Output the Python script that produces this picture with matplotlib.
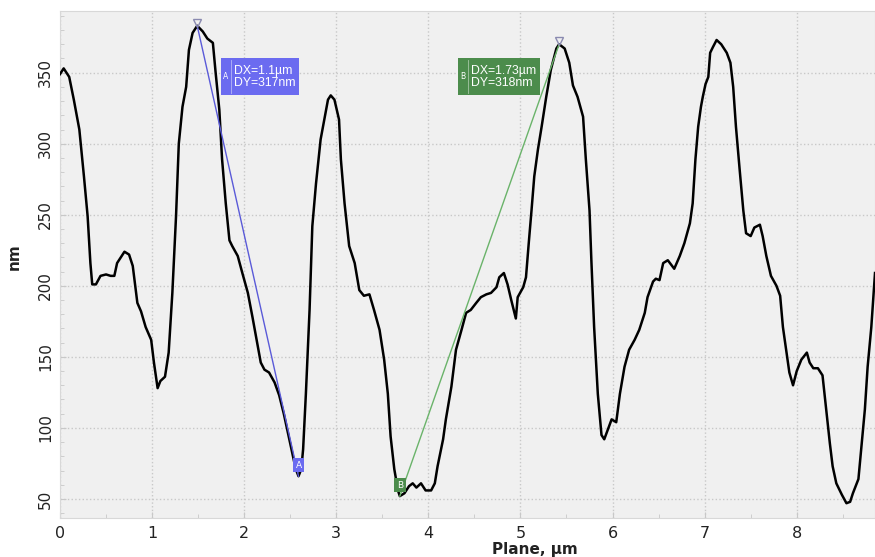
import matplotlib
matplotlib.use('Agg')
import matplotlib.pyplot as plt
from matplotlib.ticker import MultipleLocator

# Perfil medido (posição em µm, altura em nm)
pos_um = [0.00, 0.04, 0.10, 0.15, 0.21, 0.26, 0.30, 0.33, 0.35, 0.39,
          0.44, 0.50, 0.55, 0.59, 0.62, 0.70, 0.75, 0.79, 0.84, 0.88,
          0.93, 0.99, 1.02, 1.06, 1.09, 1.14, 1.18, 1.22, 1.26, 1.29,
          1.33, 1.37, 1.40, 1.44, 1.49, 1.55, 1.60, 1.66, 1.69, 1.73,
          1.76, 1.80, 1.84, 1.87, 1.93, 1.98, 2.04, 2.09, 2.14, 2.18,
          2.22, 2.27, 2.33, 2.38, 2.43, 2.49, 2.53, 2.56, 2.59, 2.62,
          2.64, 2.67, 2.71, 2.74, 2.78, 2.83, 2.87, 2.91, 2.94, 2.98,
          3.03, 3.05, 3.09, 3.14, 3.20, 3.25, 3.30, 3.36, 3.41, 3.47,
          3.52, 3.56, 3.59, 3.63, 3.67, 3.69, 3.74, 3.79, 3.83, 3.87,
          3.92, 3.97, 4.03, 4.07, 4.10, 4.16, 4.19, 4.25, 4.30, 4.36,
          4.41, 4.46, 4.52, 4.57, 4.63, 4.68, 4.74, 4.77, 4.82, 4.86,
          4.90, 4.95, 4.97, 5.03, 5.06, 5.09, 5.12, 5.15, 5.19, 5.23,
          5.28, 5.33, 5.39, 5.42, 5.48, 5.53, 5.57, 5.62, 5.68, 5.71,
          5.75, 5.77, 5.80, 5.84, 5.88, 5.91, 5.95, 5.99, 6.04, 6.08,
          6.13, 6.18, 6.24, 6.29, 6.35, 6.38, 6.44, 6.47, 6.51, 6.55,
          6.60, 6.67, 6.73, 6.78, 6.84, 6.87, 6.90, 6.93, 6.96, 6.98,
          7.01, 7.04, 7.06, 7.09, 7.13, 7.18, 7.24, 7.28, 7.31, 7.34,
          7.38, 7.42, 7.45, 7.50, 7.54, 7.60, 7.63, 7.67, 7.72, 7.78,
          7.82, 7.85, 7.89, 7.92, 7.96, 8.00, 8.05, 8.11, 8.14, 8.18,
          8.23, 8.28, 8.32, 8.36, 8.39, 8.43, 8.49, 8.54, 8.58, 8.61,
          8.67, 8.70, 8.74, 8.77, 8.81, 8.85]
altura_nm = [349, 353, 347, 331, 310, 277, 249, 216, 201, 201,
             207, 208, 207, 207, 216, 224, 222, 214, 188, 182,
             171, 162, 146, 128, 133, 136, 153, 195, 249, 300,
             326, 340, 366, 378, 383, 379, 374, 371, 350, 324,
             289, 258, 232, 228, 221, 209, 195, 178, 160, 146,
             141, 139, 132, 123, 110, 92, 80, 71, 66, 71,
             85, 124, 183, 242, 272, 303, 317, 331, 334, 331,
             317, 289, 258, 228, 216, 197, 193, 194, 183, 169,
             148, 124, 94, 71, 56, 52, 54, 59, 61, 58,
             61, 56, 56, 61, 73, 92, 106, 129, 155, 169,
             181, 183, 188, 192, 194, 195, 199, 206, 209, 201,
             190, 177, 192, 199, 206, 230, 253, 277, 296, 312,
             333, 352, 367, 370, 367, 357, 341, 333, 319, 289,
             253, 218, 171, 124, 95, 92, 99, 106, 104, 124,
             143, 155, 162, 169, 181, 192, 203, 205, 204, 216,
             218, 212, 221, 230, 244, 258, 289, 312, 326, 333,
             342, 347, 364, 368, 373, 370, 364, 357, 340, 312,
             282, 253, 237, 235, 241, 243, 235, 221, 207, 200,
             193, 171, 153, 139, 130, 140, 148, 153, 146, 142,
             142, 137, 113, 89, 73, 61, 53, 47, 48, 54,
             64, 85, 113, 143, 171, 209]

# Medições (cursores A e B): ponto inicial e final
medida_letra = ['A', 'B']
medida_x1 = [1.49, 3.69]
medida_y1 = [383, 52]
medida_x2 = [2.59, 5.42]
medida_y2 = [66, 370]
medida_cor = ['#6b6bf0', '#4c8c4c']
medida_linha = ['#5a5ad8', '#6ab36a']

fig = plt.figure(figsize=(8.75, 5.57), dpi=100, facecolor='white')
ax = fig.add_axes([60 / 875, 1 - 518 / 557, 815 / 875, 507 / 557])
ax.set_facecolor('#f0f0f0')

ax.plot(pos_um, altura_nm, color='black', lw=1.8, zorder=3)

for i, letra in enumerate(medida_letra):
    ax.plot([medida_x1[i], medida_x2[i]], [medida_y1[i], medida_y2[i]],
            color=medida_linha[i], lw=1.0, zorder=4)
    # ponto alto: triângulo aberto; ponto baixo: quadrado com a letra
    if medida_y1[i] > medida_y2[i]:
        topo = (medida_x1[i], medida_y1[i])
        vale = (medida_x2[i], medida_y2[i])
    else:
        topo = (medida_x2[i], medida_y2[i])
        vale = (medida_x1[i], medida_y1[i])
    ax.plot(topo[0], topo[1] + 2, marker='v', ms=6, mfc='none',
            mec='#8a8ab0', mew=1.0, zorder=5)
    ax.annotate(letra, xy=vale, xytext=(0, 8), textcoords='offset points',
                ha='center', va='center', fontsize=6.5, color='white',
                bbox=dict(boxstyle='square,pad=0.3', fc=medida_cor[i], ec='none'),
                zorder=6)

# Caixas de texto DX / DY
caixas = [(1.75, 0.85, 'A', 'DX=1.1µm\nDY=317nm'),
          (4.32, 0.89, 'B', 'DX=1.73µm\nDY=318nm')]
for i, (x0, largura, letra, texto) in enumerate(caixas):
    ax.add_patch(plt.Rectangle((x0, 334), largura, 26.5, facecolor=medida_cor[i],
                               edgecolor='none', zorder=6))
    ax.text(x0 + 0.05, 347, letra, fontsize=5.5, color='white',
            ha='center', va='center', zorder=7)
    ax.plot([x0 + 0.11, x0 + 0.11], [335.5, 359], color='white', lw=0.6,
            alpha=0.5, zorder=7)
    ax.text(x0 + 0.14, 347, texto, fontsize=8.8, color='white',
            family='Liberation Sans', ha='left', va='center',
            linespacing=0.95, zorder=7)

ax.set_xlim(0, 8.85)
ax.set_ylim(36.6, 393.4)
ax.xaxis.set_major_locator(MultipleLocator(1))
ax.xaxis.set_minor_locator(MultipleLocator(0.5))
ax.yaxis.set_major_locator(MultipleLocator(50))
ax.yaxis.set_minor_locator(MultipleLocator(10))

ax.grid(True, which='major', color='#c8c8c8', linestyle=':', linewidth=1.0, zorder=0)
ax.set_axisbelow(True)

for spine in ax.spines.values():
    spine.set_color('#d8d8d8')
    spine.set_linewidth(0.8)

ax.tick_params(which='both', direction='in', color='#c8c8c8')
ax.tick_params(which='major', length=4)
ax.tick_params(which='minor', length=3)
ax.tick_params(axis='x', labelsize=11.5, pad=6, labelcolor='#222222')
ax.tick_params(axis='y', labelsize=11, pad=5, labelcolor='#222222', labelrotation=90)
for lab in ax.get_yticklabels():
    lab.set_verticalalignment('center')

ax.set_xlabel('Plane, µm', fontsize=11, fontweight='bold', color='#222222')
ax.xaxis.set_label_coords(0.583, -0.047)
ax.set_ylabel('nm', fontsize=11, fontweight='bold', color='#222222')
ax.yaxis.set_label_coords(-0.047, 0.515)

plt.savefig('out.png', dpi=100, facecolor=fig.get_facecolor())
